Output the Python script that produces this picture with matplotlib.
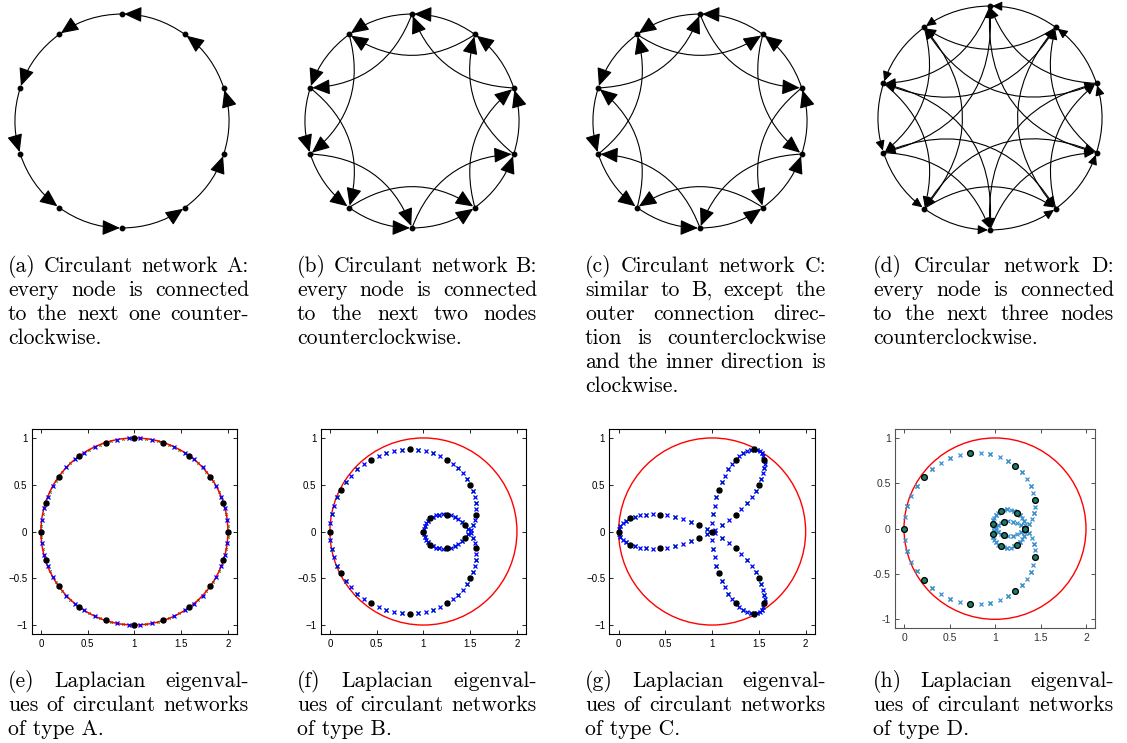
import numpy as np
import matplotlib
matplotlib.use("Agg")
import matplotlib.pyplot as plt
from matplotlib.patches import Circle

# ---------------- data ----------------
NODE_COUNT = 10                      # nodes drawn in the network diagrams
NET_OFFSETS = {                      # edge offsets (+ = counterclockwise)
    "A": [1],
    "B": [1, 2],
    "C": [1, -2],
    "D": [1, 2, 3],
}
# network sizes whose Laplacian eigenvalues are shown (green, blue, black)
SIZES_E = [100, 50, 20]
SIZES_FGH = [50, 100, 20]

X_TICKS = [0, 0.5, 1, 1.5, 2]
X_TICK_LABELS = ["0", "0.5", "1", "1.5", "2"]
Y_TICKS = [-1, -0.5, 0, 0.5, 1]
Y_TICK_LABELS = ["\u22121", "\u22120.5", "0", "0.5", "1"]
Y_TICK_LABELS_H = ["-1", "-0.5", "0", "0.5", "1"]

TOP_CAPTIONS = [
    ["(a) Circulant network A:", "every node is connected",
     "to the next one counter-", "clockwise."],
    ["(b) Circulant network B:", "every node is connected",
     "to the next two nodes", "counterclockwise."],
    ["(c) Circulant network C:", "similar to B, except the",
     "outer connection direc-", "tion is counterclockwise",
     "and the inner direction is", "clockwise."],
    ["(d) Circular network D:", "every node is connected",
     "to the next three nodes", "counterclockwise."],
]
BOTTOM_CAPTIONS = [
    ["(e) Laplacian eigenval-", "ues of circulant networks", "of type A."],
    ["(f) Laplacian eigenval-", "ues of circulant networks", "of type B."],
    ["(g) Laplacian eigenval-", "ues of circulant networks", "of type C."],
    ["(h) Laplacian eigenval-", "ues of circulant networks", "of type D."],
]

# ---------------- figure ----------------
W, H = 1127, 743
fig = plt.figure(figsize=(W / 100, H / 100), dpi=100)


def add_axes_px(left, top, width, height):
    return fig.add_axes([left / W, 1 - (top + height) / H, width / W, height / H])


def laplacian_eigs(n, offsets):
    A = np.zeros((n, n))
    for i in range(n):
        for s in offsets:
            A[i, (i + s) % n] = 1.0
    L = np.eye(n) - A / len(offsets)
    return np.linalg.eigvals(L)


# ---------- top row: network diagrams ----------
centers = [(122, 121, 107), (412, 121, 107), (700, 121, 107), (990, 118, 112)]
curv = {1: np.tan(np.radians(9)), 2: -0.33, 3: -0.42}
for key, (cx, cy, r) in zip(["A", "B", "C", "D"], centers):
    pad = 1.2 * r
    ax = add_axes_px(cx - pad, cy - pad, 2 * pad, 2 * pad)
    ax.set_xlim(-pad / r, pad / r)
    ax.set_ylim(-pad / r, pad / r)
    ax.axis("off")
    ang = np.radians(90 + 360.0 / NODE_COUNT * np.arange(NODE_COUNT))
    nx, ny = np.cos(ang), np.sin(ang)
    small = key == "D"
    for i in range(NODE_COUNT):
        for s in NET_OFFSETS[key]:
            j = (i + s) % NODE_COUNT
            rad = curv[abs(s)] * (1 if s > 0 else -1)
            ax.annotate("", xy=(nx[j], ny[j]), xytext=(nx[i], ny[i]),
                        arrowprops=dict(
                            arrowstyle="-|>,head_length=%.2f,head_width=%.2f"
                            % ((0.6, 0.28) if small else (1.1, 0.48)),
                            connectionstyle="arc3,rad=%.3f" % rad,
                            color="k", lw=0.8, shrinkA=0, shrinkB=1.5,
                            mutation_scale=10))
    ax.plot(nx, ny, "o", color="k", ms=3.2, zorder=5)

# ---------- bottom row: eigenvalue plots ----------
bottom_axes = [(31.6, 428.6, 205.7, 205.8), (320.6, 428.6, 205.7, 205.8),
               (609.3, 428.6, 205.7, 205.8), (894.9, 428.9, 200.2, 199.5)]
for idx, (key, rect) in enumerate(zip(["A", "B", "C", "D"], bottom_axes)):
    ax = add_axes_px(*rect)
    modern = key == "D"
    ax.set_xlim(-0.1, 2.1)
    ax.set_ylim(-1.1, 1.1)
    sizes = SIZES_E if key == "A" else SIZES_FGH
    ev_g = laplacian_eigs(sizes[0], NET_OFFSETS[key])
    ev_b = laplacian_eigs(sizes[1], NET_OFFSETS[key])
    ev_k = laplacian_eigs(sizes[2], NET_OFFSETS[key])
    if modern:
        gcol, bcol = "#2ca089", "#3d8fd4"
    else:
        gcol, bcol = "#009900", "#0000ff"
    if key == "A":
        ax.plot(ev_g.real, ev_g.imag, "x", color=gcol, ms=1.8, mew=0.6, zorder=1)
        ax.add_patch(Circle((1, 0), 1, fill=False, ec="red", lw=1.1, zorder=2))
    else:
        ax.add_patch(Circle((1, 0), 1, fill=False, ec="red", lw=1.0, zorder=1))
        ax.plot(ev_g.real, ev_g.imag, "x", color=gcol, ms=3.0, mew=0.9, zorder=2)
    ax.plot(ev_b.real, ev_b.imag, "x", color=bcol, ms=3.0, mew=0.9, zorder=3)
    if modern:
        ax.plot(ev_k.real, ev_k.imag, "o", mfc="#1f7a68", mec="k", ms=4.2,
                mew=0.9, zorder=4)
    else:
        ax.plot(ev_k.real, ev_k.imag, "o", color="k", ms=3.6, zorder=4)
    ax.set_xticks(X_TICKS, X_TICK_LABELS)
    ax.set_yticks(Y_TICKS, Y_TICK_LABELS_H if modern else Y_TICK_LABELS)
    tcol = "#333333" if modern else "k"
    ax.tick_params(direction="in", length=3, width=0.6, top=True, right=True,
                   labelsize=7.5 if modern else 7, pad=3, colors=tcol,
                   labelcolor=tcol)
    for sp in ax.spines.values():
        sp.set_linewidth(0.8)
        sp.set_color("#555555" if modern else "k")
    for lab in ax.get_xticklabels() + ax.get_yticklabels():
        lab.set_family("Liberation Sans")

# ---------- captions (justified) ----------
bg = fig.add_axes([0, 0, 1, 1], zorder=-1)
bg.set_xlim(0, W)
bg.set_ylim(H, 0)
bg.axis("off")
renderer = fig.canvas.get_renderer()
FS = 15.6
FONT = "cmr10"


def justified(lines, x0, x1, y0, dy):
    for li, line in enumerate(lines):
        y = y0 + li * dy
        words = line.split(" ")
        if li == len(lines) - 1 or len(words) == 1:
            bg.text(x0, y, line, fontsize=FS, family=FONT, ha="left",
                    va="baseline")
            continue
        widths = []
        for w in words:
            t = bg.text(0, 0, w, fontsize=FS, family=FONT)
            widths.append(t.get_window_extent(renderer).width)
            t.remove()
        gap = (x1 - x0 - sum(widths)) / (len(words) - 1)
        x = x0
        for w, wd in zip(words, widths):
            bg.text(x, y, w, fontsize=FS, family=FONT, ha="left", va="baseline")
            x += wd + gap


col_x = [(8, 249), (297, 537), (585, 826), (873, 1114)]
for (x0, x1), lines in zip(col_x, TOP_CAPTIONS):
    justified(lines, x0, x1, 272, 24)
for (x0, x1), lines in zip(col_x, BOTTOM_CAPTIONS):
    justified(lines, x0, x1, 687, 24)

fig.savefig("out.png", dpi=100)
